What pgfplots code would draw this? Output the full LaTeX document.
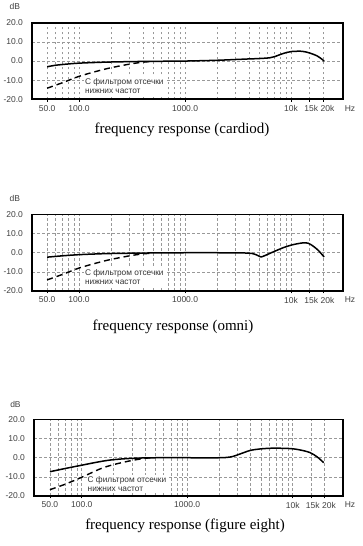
\documentclass[border=0pt]{standalone}
\usepackage{pgfplots}
\pgfplotsset{compat=1.18}
\usepackage{fontspec}
\setmainfont{Liberation Serif}
\newfontfamily\arialf{Liberation Sans}
\newcommand{\tickfont}{\arialf\fontsize{8.5}{9.7}\selectfont}
\newcommand{\annfont}{\arialf\fontsize{8.3}{9.7}\selectfont}
\tikzset{
  solidc/.style={black, line width=1.5pt, smooth, tension=0.5},
  dashc/.style={black, line width=1.4pt, dash pattern=on 6pt off 4pt, smooth, tension=0.5},
  ann/.style={fill=white, inner sep=1pt, align=left, anchor=west, font=\annfont, text=black!80},
  lab/.style={font=\tickfont, text=black!75},
}
\begin{document}
\begin{tikzpicture}
\useasboundingbox (0pt,0pt) rectangle (363pt,546pt);
% ---------- cardioid ----------
\begin{axis}[at={(32pt,446.7pt)}, anchor=south west,
    xmode=log, scale only axis, width=311pt, height=76.5pt,
    xmin=36, xmax=30900, ymin=-20, ymax=20,
    axis line style={line width=1.8pt, black},
    xtick={50,100,1000,10000,15000,20000},
    xticklabels={50.0,100.0,1000.0,10k,{\kern3pt 15k},{\kern9pt 20k}},
    minor xtick={60,70,80,90,200,300,400,500,600,700,800,900,2000,3000,4000,5000,6000,7000,8000,9000},
    ytick={-20,-10,0,10,20},
    yticklabels={-20.0,-10.0,0.0,10.0,20.0},
    xmajorgrids, xminorgrids, ymajorgrids,
    grid style={gray!80, line width=0.6pt, dash pattern=on 2.5pt off 2.5pt},
    tick align=outside, xtick pos=bottom, major tick length=2.5pt, minor tick length=0pt,
    xtick style={black, line width=0.8pt}, ytick style={draw=none},
    tick label style={font=\tickfont, text=black!75},
    xticklabel style={yshift=0pt},
    yticklabel style={xshift=-3pt},
    clip=false]
\addplot[solidc] coordinates {(50,-3.0)(60,-2.2)(80,-1.5)(100,-1.1)(150,-0.7)(200,-0.5)(400,-0.2)(1000,0)(2000,0.4)(3000,0.8)(4000,1.1)(5000,1.3)(6300,1.7)(7000,2.3)(7900,3.4)(9100,4.5)(10200,5.0)(12700,5.1)(15000,4.2)(17600,2.7)(19500,1.0)(20500,0)};
\node[ann] at (axis cs:111,-13) {С фильтром отсечки\\нижних частот};
\addplot[dashc] coordinates {(50,-14.2)(70,-11.3)(100,-8.0)(150,-5.2)(200,-3.5)(300,-1.6)(400,-0.6)(500,-0.2)};
\node[lab, yshift=16pt] at (rel axis cs:-0.055,1) {dB};
\node[lab, anchor=north, yshift=-2.5pt] at (rel axis cs:1.0225,0) {Hz};
\end{axis}
% ---------- omni ----------
\begin{axis}[at={(32pt,255pt)}, anchor=south west,
    xmode=log, scale only axis, width=311pt, height=76.5pt,
    xmin=36, xmax=30900, ymin=-20, ymax=20,
    axis line style={line width=1.8pt, black},
    xtick={50,100,1000,10000,15000,20000},
    xticklabels={50.0,100.0,1000.0,10k,{\kern3pt 15k},{\kern9pt 20k}},
    minor xtick={60,70,80,90,200,300,400,500,600,700,800,900,2000,3000,4000,5000,6000,7000,8000,9000},
    ytick={-20,-10,0,10,20},
    yticklabels={-20.0,-10.0,0.0,10.0,20.0},
    xmajorgrids, xminorgrids, ymajorgrids,
    grid style={gray!80, line width=0.6pt, dash pattern=on 2.5pt off 2.5pt},
    tick align=outside, xtick pos=bottom, major tick length=2.5pt, minor tick length=0pt,
    xtick style={black, line width=0.8pt}, ytick style={draw=none},
    tick label style={font=\tickfont, text=black!75},
    xticklabel style={yshift=0pt},
    yticklabel style={xshift=-3pt},
    clip=false]
\addplot[solidc] coordinates {(50,-2.3)(70,-1.6)(100,-1.0)(150,-0.6)(200,-0.4)(500,-0.1)(1000,0)(2000,0)(3500,-0.1)(4300,-0.4)(4800,-1.3)(5200,-2.2)(5650,-1.5)(6700,0.3)(8400,2.6)(10200,4.1)(12700,5.1)(14500,5.0)(16200,3.4)(18100,1.2)(20500,-2.2)};
\node[ann] at (axis cs:111,-12.7) {С фильтром отсечки\\нижних частот};
\addplot[dashc] coordinates {(50,-14.2)(70,-11.3)(100,-8.0)(150,-5.2)(200,-3.5)(300,-1.6)(400,-0.6)(500,-0.2)};
\node[lab, yshift=16pt] at (rel axis cs:-0.055,1) {dB};
\node[lab, anchor=north, yshift=-2.5pt] at (rel axis cs:1.0225,0) {Hz};
\end{axis}
% ---------- figure eight ----------
\begin{axis}[at={(34pt,50pt)}, anchor=south west,
    xmode=log, scale only axis, width=309pt, height=76.5pt,
    xmin=35.3, xmax=30000, ymin=-20, ymax=20,
    axis line style={line width=1.8pt, black},
    xtick={50,100,1000,10000,15000,20000},
    xticklabels={50.0,100.0,1000.0,10k,{\kern3pt 15k},{\kern9pt 20k}},
    minor xtick={60,70,80,90,200,300,400,500,600,700,800,900,2000,3000,4000,5000,6000,7000,8000,9000},
    ytick={-20,-10,0,10,20},
    yticklabels={-20.0,-10.0,0.0,10.0,20.0},
    xmajorgrids, xminorgrids, ymajorgrids,
    grid style={gray!80, line width=0.6pt, dash pattern=on 2.5pt off 2.5pt},
    tick align=outside, xtick pos=bottom, major tick length=2.5pt, minor tick length=0pt,
    xtick style={black, line width=0.8pt}, ytick style={draw=none},
    tick label style={font=\tickfont, text=black!75},
    xticklabel style={yshift=0pt},
    yticklabel style={xshift=-3pt},
    clip=false]
\addplot[solidc] coordinates {(50,-7.3)(70,-5.6)(100,-3.9)(150,-2.0)(200,-1.0)(300,-0.3)(500,0)(1000,0)(2000,0)(2400,0.2)(2720,0.7)(3180,2.0)(3950,3.8)(4900,4.6)(6500,5.0)(9500,4.8)(11700,4.1)(14600,2.7)(17200,0.3)(19700,-2.6)};
\node[ann] at (axis cs:111,-13.7) {С фильтром отсечки\\нижних частот};
\addplot[dashc] coordinates {(50,-16.7)(70,-13.8)(100,-10.2)(150,-5.8)(200,-3.6)(300,-1.4)(400,-0.3)(450,0)};
\node[lab, yshift=15pt] at (rel axis cs:-0.06,1) {dB};
\node[lab, anchor=north, yshift=-2.5pt] at (rel axis cs:1.0225,0) {Hz};
\end{axis}
% ---------- titles ----------
\node[font=\fontsize{15}{17}\selectfont] at (182pt,416pt) {frequency response (cardiod)};
\node[font=\fontsize{15}{17}\selectfont] at (173pt,219pt) {frequency response (omni)};
\node[font=\fontsize{15}{17}\selectfont] at (185pt,20pt) {frequency response (figure eight)};
\end{tikzpicture}
\end{document}
